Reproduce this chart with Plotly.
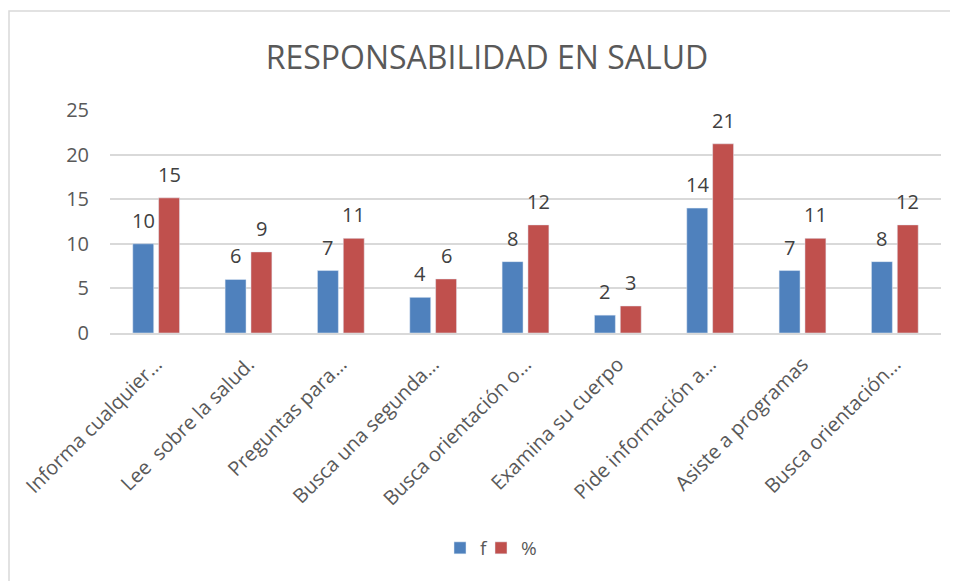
import plotly.graph_objects as go

categories = [
    "Informa cualquier…",
    "Lee  sobre la salud.",
    "Preguntas para…",
    "Busca una segunda…",
    "Busca orientación o…",
    "Examina su cuerpo",
    "Pide información a…",
    "Asiste a programas",
    "Busca orientación…",
]
f_values = [10, 6, 7, 4, 8, 2, 14, 7, 8]
pct_values = [15.15, 9.09, 10.61, 6.06, 12.12, 3.03, 21.21, 10.61, 12.12]
y_ticks = [0, 5, 10, 15, 20, 25]

FONT = "Open Sans"
W, H = 958, 581
OFF = 8  # page body margin
# desired screen positions of plot area
SX0, SX1, SY0, SY1 = 110, 941, 110, 333
L = SX0 - OFF
T = SY0 - OFF
R = (W + OFF) - SX1
B = (H + OFF) - SY1
pw, ph = SX1 - SX0, SY1 - SY0


def px_x(x):
    return (x - SX0) / pw


def px_y(y):
    return (SY1 - y) / ph


fig = go.Figure()
fig.add_trace(go.Bar(name="f", x=categories, y=f_values, marker_color="#4F81BD",
                     legend="legend"))
fig.add_trace(go.Bar(name="%", x=categories, y=pct_values, marker_color="#C0504D",
                     legend="legend2"))

annotations = []
for series, shift in ((f_values, -13), (pct_values, 13)):
    for c, v in zip(categories, series):
        annotations.append(dict(
            x=c, y=v, xref="x", yref="y", text=f"{v:.0f}", showarrow=False,
            xshift=shift, yshift=8, yanchor="bottom",
            font=dict(family=FONT, size=20, color="#404040"),
        ))

legend_style = dict(orientation="h", yanchor="middle", y=px_y(548), xanchor="left",
                    font=dict(family=FONT, size=19, color="#595959"),
                    itemwidth=30, bgcolor="rgba(0,0,0,0)")

fig.update_layout(
    width=W, height=H,
    margin=dict(l=L, r=R, t=T, b=B),
    paper_bgcolor="white", plot_bgcolor="white",
    barmode="group", bargap=0.44, bargroupgap=0.19,
    title=dict(text="RESPONSABILIDAD EN SALUD", x=0.5,
               xanchor="center", xref="container",
               y=1 - (58 - OFF) / H, yanchor="middle", yref="container",
               font=dict(family=FONT, size=32, color="#595959")),
    font=dict(family=FONT, color="#595959"),
    showlegend=True,
    legend=dict(legend_style, x=px_x(440)),
    legend2=dict(legend_style, x=px_x(481)),
    xaxis=dict(tickangle=-45, tickfont=dict(family=FONT, size=20, color="#595959"),
               showline=True, linecolor="#D9D9D9", linewidth=1.5,
               ticks="", ticklabelstandoff=10),
    yaxis=dict(range=[0, 25], tickvals=y_ticks, showgrid=True, gridcolor="#D9D9D9",
               gridwidth=1.5, zeroline=False, showline=False,
               tickfont=dict(family=FONT, size=20, color="#595959"),
               ticklabelstandoff=20),
    annotations=annotations,
    shapes=[dict(type="rect", xref="paper", yref="paper",
                 x0=px_x(9), x1=px_x(990), y0=px_y(620), y1=px_y(11),
                 line=dict(color="#D9D9D9", width=1.5), fillcolor="rgba(0,0,0,0)",
                 layer="below")],
)

fig.write_html("out.html")
